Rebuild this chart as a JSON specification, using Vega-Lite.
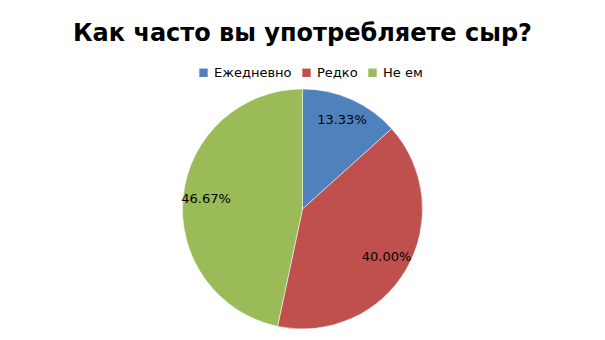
{
  "$schema": "https://vega.github.io/schema/vega-lite/v6.json",
  "width": 605,
  "height": 340,
  "autosize": {"type": "fit", "contains": "padding"},
  "padding": {"top": 22, "bottom": 6, "left": 5, "right": 5},
  "background": "white",
  "title": {
    "text": "Как часто вы употребляете сыр?",
    "font": "DejaVu Sans",
    "fontSize": 24,
    "fontWeight": "bold",
    "color": "#000000",
    "anchor": "middle",
    "offset": 38
  },
  "data": {
    "values": [
      {"cat": "Ежедневно", "value": 13.33, "label": "13.33%", "order": 1},
      {"cat": "Редко", "value": 40.0, "label": "40.00%", "order": 2},
      {"cat": "Не ем", "value": 46.67, "label": "46.67%", "order": 3}
    ]
  },
  "encoding": {
    "theta": {"field": "value", "type": "quantitative", "stack": true},
    "order": {"field": "order", "type": "ordinal"}
  },
  "layer": [
    {
      "mark": {"type": "arc", "outerRadius": 120, "stroke": "white", "strokeWidth": 0.5},
      "encoding": {
        "color": {
          "field": "cat",
          "type": "nominal",
          "sort": ["Ежедневно", "Редко", "Не ем"],
          "scale": {"domain": ["Ежедневно", "Редко", "Не ем"], "range": ["#4F81BD", "#C0504D", "#9BBB59"]},
          "legend": {
            "title": null,
            "orient": "none",
            "legendX": 192,
            "legendY": -18,
            "direction": "horizontal",
            "symbolType": "square",
            "symbolSize": 70,
            "symbolStrokeWidth": 0,
            "labelFont": "DejaVu Sans",
            "labelFontSize": 13,
            "labelColor": "#000000",
            "columnPadding": 8,
            "symbolOffset": 0
          }
        }
      }
    },
    {
      "mark": {"type": "text", "radius": 97, "font": "DejaVu Sans", "fontSize": 13, "color": "#000000"},
      "encoding": {
        "text": {"field": "label", "type": "nominal"}
      }
    }
  ],
  "view": {"stroke": null}
}
